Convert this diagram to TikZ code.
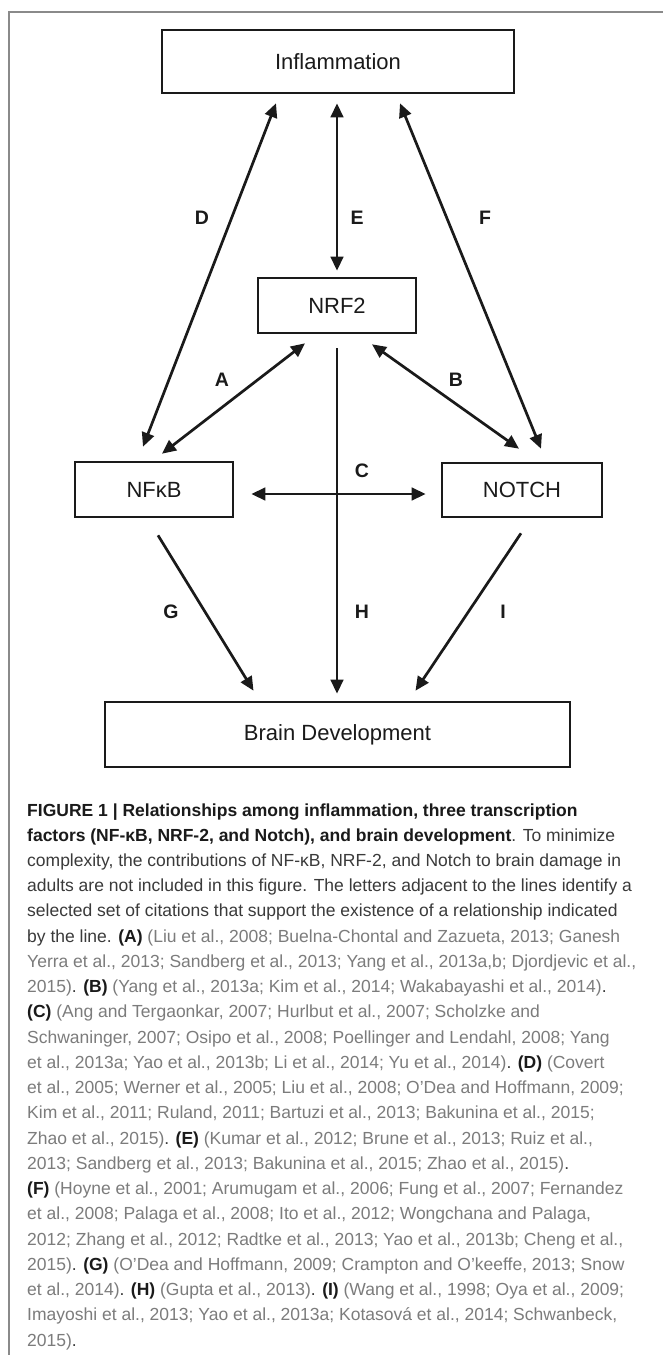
\documentclass[tikz,border=0pt]{standalone}
\usepackage{fontspec}
\setmainfont{Liberation Sans}
\usetikzlibrary{arrows.meta,calc}
\definecolor{framegray}{HTML}{8A8A8A}
\definecolor{inkdark}{HTML}{1A1A1A}
\definecolor{capdark}{HTML}{3A3A3A}
\definecolor{capgray}{HTML}{7C7C7C}
\newcommand\citeg[1]{\textcolor{capgray}{#1}}
\newcommand\blab[1]{\textbf{\textcolor{inkdark}{#1}}}
\begin{document}
\begin{tikzpicture}[x=1pt,y=-1pt,
  box/.style={draw=inkdark,line width=2.6pt,fill=white,inner sep=0pt,
    font=\fontsize{22}{26}\selectfont,text=inkdark},
  lab/.style={font=\bfseries\fontsize{19.5}{22}\selectfont,text=inkdark,inner sep=0pt},
  dbl/.style={draw=inkdark,line width=2.7pt,{Triangle[length=14pt,width=12.5pt]}-{Triangle[length=14pt,width=12.5pt]}},
  sgl/.style={draw=inkdark,line width=2.7pt,-{Triangle[length=14pt,width=12.5pt]}},
  capline/.style={anchor=base west,inner sep=0pt,text=capdark,font=\fontsize{17.5}{20}\selectfont}
]
\useasboundingbox (0,0) rectangle (662,1355);
\fill[white] (0,0) rectangle (662,1355);
% frame
\draw[framegray,line width=1.2pt] (9,1356) -- (9,12) -- (663,12);

% boxes
\node[box,minimum width=352pt,minimum height=63pt] (infl) at (338,61.5) {Inflammation};
\node[box,minimum width=158pt,minimum height=55pt] (nrf2) at (337,305.5) {NRF2};
\node[box,minimum width=158pt,minimum height=55pt] (nfkb) at (154,489.5) {NFκB};
\node[box,minimum width=160pt,minimum height=54pt] (notch) at (522,490) {NOTCH};
\node[box,minimum width=465pt,minimum height=65pt] (brain) at (337.5,734.5) {Brain Development};

% connectors
\draw[dbl] ($(nfkb.north)+(-11,-14)$) -- ($(infl.south)+(-62,9)$);
\draw[dbl] ($(infl.south)+(-1,9)$) -- ($(nrf2.north)+(0,-6)$);
\draw[dbl] ($(notch.north)+(19,-13)$) -- ($(infl.south)+(62,9)$);
\draw[dbl] ($(nrf2.south)+(-32,9)$) -- ($(nfkb.north)+(8,-7)$);
\draw[dbl] ($(nrf2.south)+(35,10)$) -- ($(notch.north)+(-3,-13)$);
\draw[dbl] ($(nfkb.east)+(17,4.5)$) -- ($(notch.west)+(-15,4)$);
\draw[sgl] ($(nrf2.south)+(0,14)$) -- ($(brain.north)+(-0.5,-7)$);
\draw[sgl] ($(nfkb.south)+(4,17)$) -- ($(brain.north)+(-84,-10)$);
\draw[sgl] ($(notch.south)+(-1,15)$) -- ($(brain.north)+(78,-10)$);

% letters
\node[lab] (lD) at (202,218) {D};
\node[lab] (lE) at (357,218) {E};
\node[lab] (lF) at (485,218) {F};
\node[lab] (lA) at (222,380) {A};
\node[lab] (lB) at (456,380) {B};
\node[lab] (lC) at (362,471) {C};
\node[lab] (lG) at (171,612) {G};
\node[lab] (lH) at (362,612) {H};
\node[lab] (lI) at (503,612) {I};

% caption
\node[capline] (c1) at (27,816) {\blab{FIGURE 1 | Relationships among inflammation, three transcription}};
\node[capline] (c2) at (27,841.24) {\blab{factors (NF-κB, NRF-2, and Notch), and brain development}. To minimize};
\node[capline] (c3) at (27,866.48) {complexity, the contributions of NF-κB, NRF-2, and Notch to brain damage in};
\node[capline] (c4) at (27,891.72) {adults are not included in this figure. The letters adjacent to the lines identify a};
\node[capline] (c5) at (27,916.96) {selected set of citations that support the existence of a relationship indicated};
\node[capline] (c6) at (27,942.2) {by the line. \blab{(A)} \citeg{(Liu et al., 2008; Buelna-Chontal and Zazueta, 2013; Ganesh}};
\node[capline] (c7) at (27,967.44) {\citeg{Yerra et al., 2013; Sandberg et al., 2013; Yang et al., 2013a,b; Djordjevic et al.,}};
\node[capline] (c8) at (27,992.68) {\citeg{2015)}. \blab{(B)} \citeg{(Yang et al., 2013a; Kim et al., 2014; Wakabayashi et al., 2014)}.};
\node[capline] (c9) at (27,1017.92) {\blab{(C)} \citeg{(Ang and Tergaonkar, 2007; Hurlbut et al., 2007; Scholzke and}};
\node[capline] (c10) at (27,1043.16) {\citeg{Schwaninger, 2007; Osipo et al., 2008; Poellinger and Lendahl, 2008; Yang}};
\node[capline] (c11) at (27,1068.4) {\citeg{et al., 2013a; Yao et al., 2013b; Li et al., 2014; Yu et al., 2014)}. \blab{(D)} \citeg{(Covert}};
\node[capline] (c12) at (27,1093.64) {\citeg{et al., 2005; Werner et al., 2005; Liu et al., 2008; O’Dea and Hoffmann, 2009;}};
\node[capline] (c13) at (27,1118.88) {\citeg{Kim et al., 2011; Ruland, 2011; Bartuzi et al., 2013; Bakunina et al., 2015;}};
\node[capline] (c14) at (27,1144.12) {\citeg{Zhao et al., 2015)}. \blab{(E)} \citeg{(Kumar et al., 2012; Brune et al., 2013; Ruiz et al.,}};
\node[capline] (c15) at (27,1169.36) {\citeg{2013; Sandberg et al., 2013; Bakunina et al., 2015; Zhao et al., 2015)}.};
\node[capline] (c16) at (27,1194.6) {\blab{(F)} \citeg{(Hoyne et al., 2001; Arumugam et al., 2006; Fung et al., 2007; Fernandez}};
\node[capline] (c17) at (27,1219.84) {\citeg{et al., 2008; Palaga et al., 2008; Ito et al., 2012; Wongchana and Palaga,}};
\node[capline] (c18) at (27,1245.08) {\citeg{2012; Zhang et al., 2012; Radtke et al., 2013; Yao et al., 2013b; Cheng et al.,}};
\node[capline] (c19) at (27,1270.32) {\citeg{2015)}. \blab{(G)} \citeg{(O’Dea and Hoffmann, 2009; Crampton and O’keeffe, 2013; Snow}};
\node[capline] (c20) at (27,1295.56) {\citeg{et al., 2014)}. \blab{(H)} \citeg{(Gupta et al., 2013)}. \blab{(I)} \citeg{(Wang et al., 1998; Oya et al., 2009;}};
\node[capline] (c21) at (27,1320.8) {\citeg{Imayoshi et al., 2013; Yao et al., 2013a; Kotasová et al., 2014; Schwanbeck,}};
\node[capline] (c22) at (27,1346.04) {\citeg{2015)}.};
\end{tikzpicture}
\end{document}
